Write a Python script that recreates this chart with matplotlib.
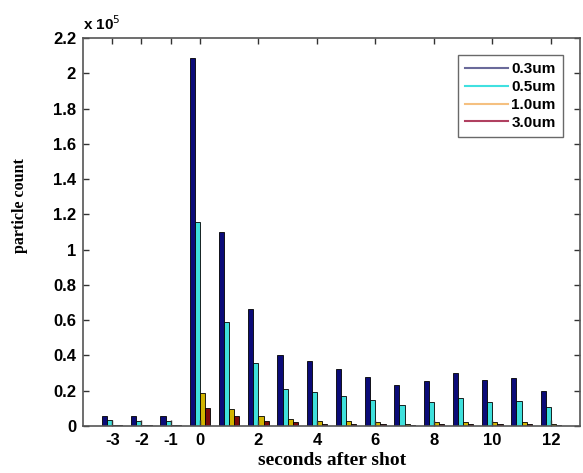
import numpy as np
import matplotlib
matplotlib.use('Agg')
import matplotlib.pyplot as plt
from matplotlib.lines import Line2D

# ************************ Data (x 10^5 particles) ************************ #
seconds = [-3, -2, -1, 0, 1, 2, 3, 4, 5, 6, 7, 8, 9, 10, 11, 12]
count_03 = [0.058, 0.055, 0.055, 2.085, 1.099, 0.662, 0.400, 0.366, 0.322, 0.275, 0.232, 0.253, 0.300, 0.262, 0.270, 0.198]
count_05 = [0.036, 0.030, 0.030, 1.155, 0.590, 0.355, 0.210, 0.190, 0.171, 0.147, 0.120, 0.134, 0.158, 0.134, 0.140, 0.107]
count_10 = [0.006, 0.005, 0.005, 0.185, 0.096, 0.058, 0.040, 0.028, 0.026, 0.024, 0.012, 0.022, 0.022, 0.022, 0.022, 0.012]
count_30 = [0.004, 0.004, 0.004, 0.100, 0.055, 0.030, 0.020, 0.012, 0.012, 0.010, 0.006, 0.010, 0.010, 0.010, 0.010, 0.006]
sizes = ['0.3um', '0.5um', '1.0um', '3.0um']
xticks = [-3, -2, -1, 0, 2, 4, 6, 8, 10, 12]
yticks = [0, 0.2, 0.4, 0.6, 0.8, 1, 1.2, 1.4, 1.6, 1.8, 2, 2.2]

bar_colors = ['#0b0b78', '#3fe0dc', '#d2b400', '#7c0a0a']
leg_colors = ['#6a6a9a', '#40e0e0', '#f5c080', '#b04060']

fig = plt.figure(figsize=(5.83, 4.73), dpi=100)
ax = fig.add_axes([0.1424, 0.0994, 0.8525, 0.8203])

x = np.array(seconds, dtype=float)
w = 0.175
series = [count_03, count_05, count_10, count_30]
for i, vals in enumerate(series):
    ax.bar(x + (i - 1.5) * w, vals, width=w, color=bar_colors[i],
           edgecolor='black', linewidth=0.6)

ax.set_xlim(-4, 13)
ax.set_ylim(0, 2.2)
ax.set_xticks(xticks)
ax.set_xticklabels([str(t) for t in xticks])
ax.set_yticks(yticks)
ax.set_yticklabels(['0', '0.2', '0.4', '0.6', '0.8', '1', '1.2', '1.4', '1.6', '1.8', '2', '2.2'])
ax.tick_params(direction='in', length=4, width=1, top=True, right=True,
               color='#333333', labelsize=12, pad=5)
for lab in ax.get_xticklabels() + ax.get_yticklabels():
    lab.set_fontfamily('Liberation Sans')
    lab.set_fontweight('bold')
for sp in ax.spines.values():
    sp.set_color('#555555')
    sp.set_linewidth(1.2)

ax.text(0.0, 1.012, 'x 10$^5$', transform=ax.transAxes, fontsize=11,
        fontfamily='Liberation Sans', fontweight='bold', va='bottom', ha='left')

fig.text(0.569, 0.008, 'seconds after shot', ha='center', va='bottom',
         fontsize=14, fontfamily='Liberation Serif', fontweight='bold')
fig.text(0.034, 0.565, 'particle count', ha='center', va='center', rotation=90,
         fontsize=11.5, fontfamily='Liberation Serif', fontweight='bold')

handles = [Line2D([0], [0], color=c, lw=1.5) for c in leg_colors]
leg = ax.legend(handles, sizes, loc='upper right', bbox_to_anchor=(0.965, 0.955),
                prop={'family': 'Liberation Sans', 'weight': 'bold', 'size': 11},
                frameon=True, fancybox=False, handlelength=2.8, handletextpad=0.25,
                labelspacing=0.25, borderpad=0.45, borderaxespad=0)
leg.get_frame().set_edgecolor('#444444')
leg.get_frame().set_linewidth(1.0)

fig.savefig('out.png', dpi=100)
